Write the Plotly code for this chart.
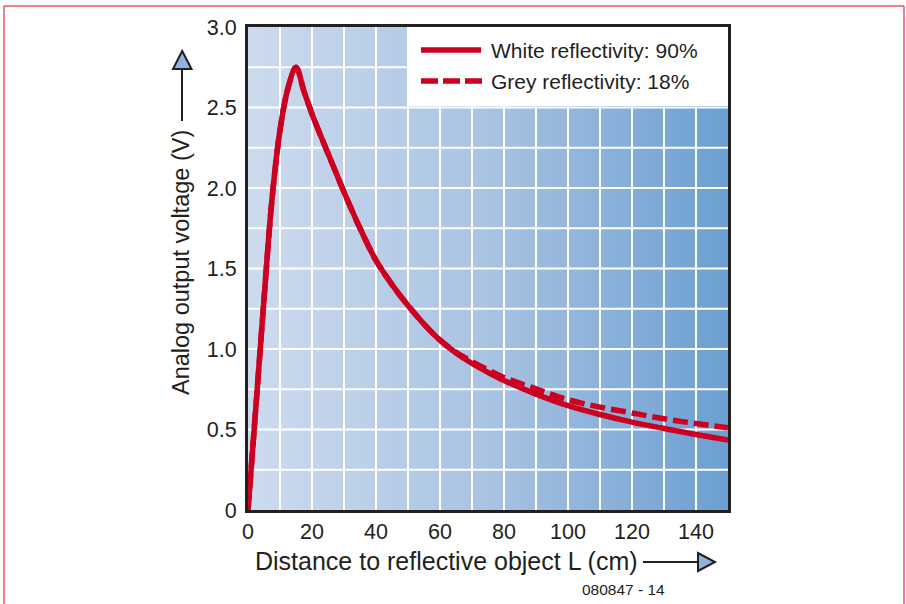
import plotly.graph_objects as go

# distance (cm) and output voltage (V)
white_dist = [0, 2.5, 5, 7.5, 10, 12.5, 15, 17.5, 20, 22.5, 25, 27.5, 30, 35, 40, 45, 50,
              55, 60, 65, 70, 75, 80, 90, 100, 110, 120, 130, 140, 150]
white_volt = [0.0, 0.65, 1.31, 1.93, 2.36, 2.62, 2.75, 2.60, 2.46, 2.335, 2.215, 2.095,
              1.975, 1.75, 1.55, 1.40, 1.27, 1.155, 1.055, 0.975, 0.91, 0.855,
              0.805, 0.72, 0.648, 0.593, 0.546, 0.506, 0.469, 0.434]

grey_dist = [0, 2.5, 5, 7.5, 10, 12.5, 15, 17.5, 20, 22.5, 25, 27.5, 30, 35, 40, 45, 50,
             55, 60, 65, 70, 75, 80, 90, 100, 110, 120, 130, 140, 150]
grey_volt = [0.0, 0.65, 1.31, 1.93, 2.36, 2.62, 2.75, 2.60, 2.46, 2.335, 2.215, 2.095,
             1.975, 1.75, 1.55, 1.40, 1.27, 1.155, 1.055, 0.98, 0.922, 0.87,
             0.823, 0.752, 0.685, 0.639, 0.603, 0.567, 0.537, 0.51]

x_ticks = [0, 20, 40, 60, 80, 100, 120, 140]
y_ticks = [0, 0.5, 1.0, 1.5, 2.0, 2.5, 3.0]
y_labels = ["0", "0.5", "1.0", "1.5", "2.0", "2.5", "3.0"]

names = ["White reflectivity: 90%", "Grey reflectivity: 18%"]

RED = "#cc0020"
INK = "#231f20"
FONT = "Liberation Sans, Arial, sans-serif"

# plot area in pixels
L, R, T, B = 248, 728, 27, 510
W, H = 906, 604


def px(x):
  return (x - L) / (R - L)


def py(y):
  return (B - y) / (B - T)


fig = go.Figure()

# gradient background
fig.add_trace(go.Scatter(
  x=[0, 150, 150, 0, 0], y=[0, 0, 3, 3, 0],
  mode="none", fill="toself",
  fillgradient=dict(type="horizontal",
                    colorscale=[[0, "#cddbee"], [0.5, "#a9c3e2"], [1, "#6b9fd1"]]),
  showlegend=False, hoverinfo="skip"
))

# white grid
gx, gy = [], []
for v in range(10, 150, 10):
  gx += [v, v, None]
  gy += [0, 3, None]
for i in range(1, 12):
  gx += [0, 150, None]
  gy += [i * 0.25, i * 0.25, None]
fig.add_trace(go.Scatter(
  x=gx, y=gy, mode="lines", line=dict(color="white", width=2),
  showlegend=False, hoverinfo="skip"
))

# legend box
fig.add_trace(go.Scatter(
  x=[50, 150, 150, 50, 50], y=[2.51, 2.51, 3, 3, 2.51],
  mode="none", fill="toself", fillcolor="white",
  showlegend=False, hoverinfo="skip"
))

fig.add_trace(go.Scatter(
  x=grey_dist, y=grey_volt, mode="lines", line_shape="spline",
  name=names[1], showlegend=False,
  line=dict(color=RED, width=5.5, dash="15px,6px")
))
fig.add_trace(go.Scatter(
  x=white_dist, y=white_volt, mode="lines", line_shape="spline",
  name=names[0], showlegend=False,
  line=dict(color=RED, width=5.5)
))

shapes = [
  # outer red border
  dict(type="rect", xref="paper", yref="paper", x0=px(4), x1=px(904), y0=py(6), y1=py(640),
       line=dict(color="#e2001a", width=1)),
  # legend samples
  dict(type="line", xref="paper", yref="paper", x0=px(421), x1=px(481), y0=py(50), y1=py(50),
       line=dict(color=RED, width=5.5)),
  dict(type="line", xref="paper", yref="paper", x0=px(421), x1=px(482), y0=py(81), y1=py(81),
       line=dict(color=RED, width=5.5, dash="17px,5px")),
  # y axis arrow
  dict(type="line", xref="paper", yref="paper", x0=px(182), x1=px(182), y0=py(121), y1=py(69),
       line=dict(color=INK, width=2)),
  dict(type="path", xref="paper", yref="paper",
       path="M {} {} L {} {} L {} {} Z".format(px(173), py(69), px(191.5), py(69), px(182.2), py(51)),
       fillcolor="#8fb3dc", line=dict(color=INK, width=2)),
  # x axis arrow
  dict(type="line", xref="paper", yref="paper", x0=px(643), x1=px(698), y0=py(562), y1=py(562),
       line=dict(color=INK, width=2)),
  dict(type="path", xref="paper", yref="paper",
       path="M {} {} L {} {} L {} {} Z".format(px(698), py(553), px(698), py(571), px(715), py(562)),
       fillcolor="#8fb3dc", line=dict(color=INK, width=2)),
]

annotations = [
  dict(text=names[0], xref="paper", yref="paper", x=px(489), y=py(50),
       xanchor="left", yanchor="middle", showarrow=False, font=dict(size=21, color=INK)),
  dict(text=names[1], xref="paper", yref="paper", x=px(489), y=py(81),
       xanchor="left", yanchor="middle", showarrow=False, font=dict(size=21, color=INK)),
  dict(text="Analog output voltage (V)", xref="paper", yref="paper", x=px(181), y=py(263),
       textangle=-90, xanchor="center", yanchor="middle", showarrow=False,
       font=dict(size=23.5, color=INK)),
  dict(text="Distance to reflective object L (cm)", xref="paper", yref="paper",
       x=px(446), y=py(561), xanchor="center", yanchor="middle", showarrow=False,
       font=dict(size=25, color=INK)),
  dict(text="080847 - 14", xref="paper", yref="paper", x=px(623), y=py(589),
       xanchor="center", yanchor="middle", showarrow=False, font=dict(size=15.5, color=INK)),
]

fig.update_layout(
  width=W, height=H,
  margin=dict(l=L, r=W - R, t=T, b=H - B, pad=0),
  paper_bgcolor="white", plot_bgcolor="white",
  font=dict(family=FONT, size=21, color=INK),
  showlegend=False,
  shapes=shapes,
  annotations=annotations,
)
fig.update_xaxes(
  range=[0, 150], tickvals=x_ticks, showgrid=False, zeroline=False,
  showline=True, linecolor=INK, linewidth=3, mirror=True,
  ticks="", ticklabelstandoff=0, tickfont=dict(size=21.5, color=INK)
)
fig.update_yaxes(
  range=[0, 3], tickvals=y_ticks, ticktext=y_labels, showgrid=False, zeroline=False,
  showline=True, linecolor=INK, linewidth=3, mirror=True,
  ticks="", ticklabelstandoff=4, tickfont=dict(size=21.5, color=INK)
)

# the page body has a default 8px margin; drop it so the figure sits at 0,0
fig.write_html("out.html", config={"displayModeBar": False},
               post_script="document.body.style.margin='0';document.body.style.overflow='hidden';")
